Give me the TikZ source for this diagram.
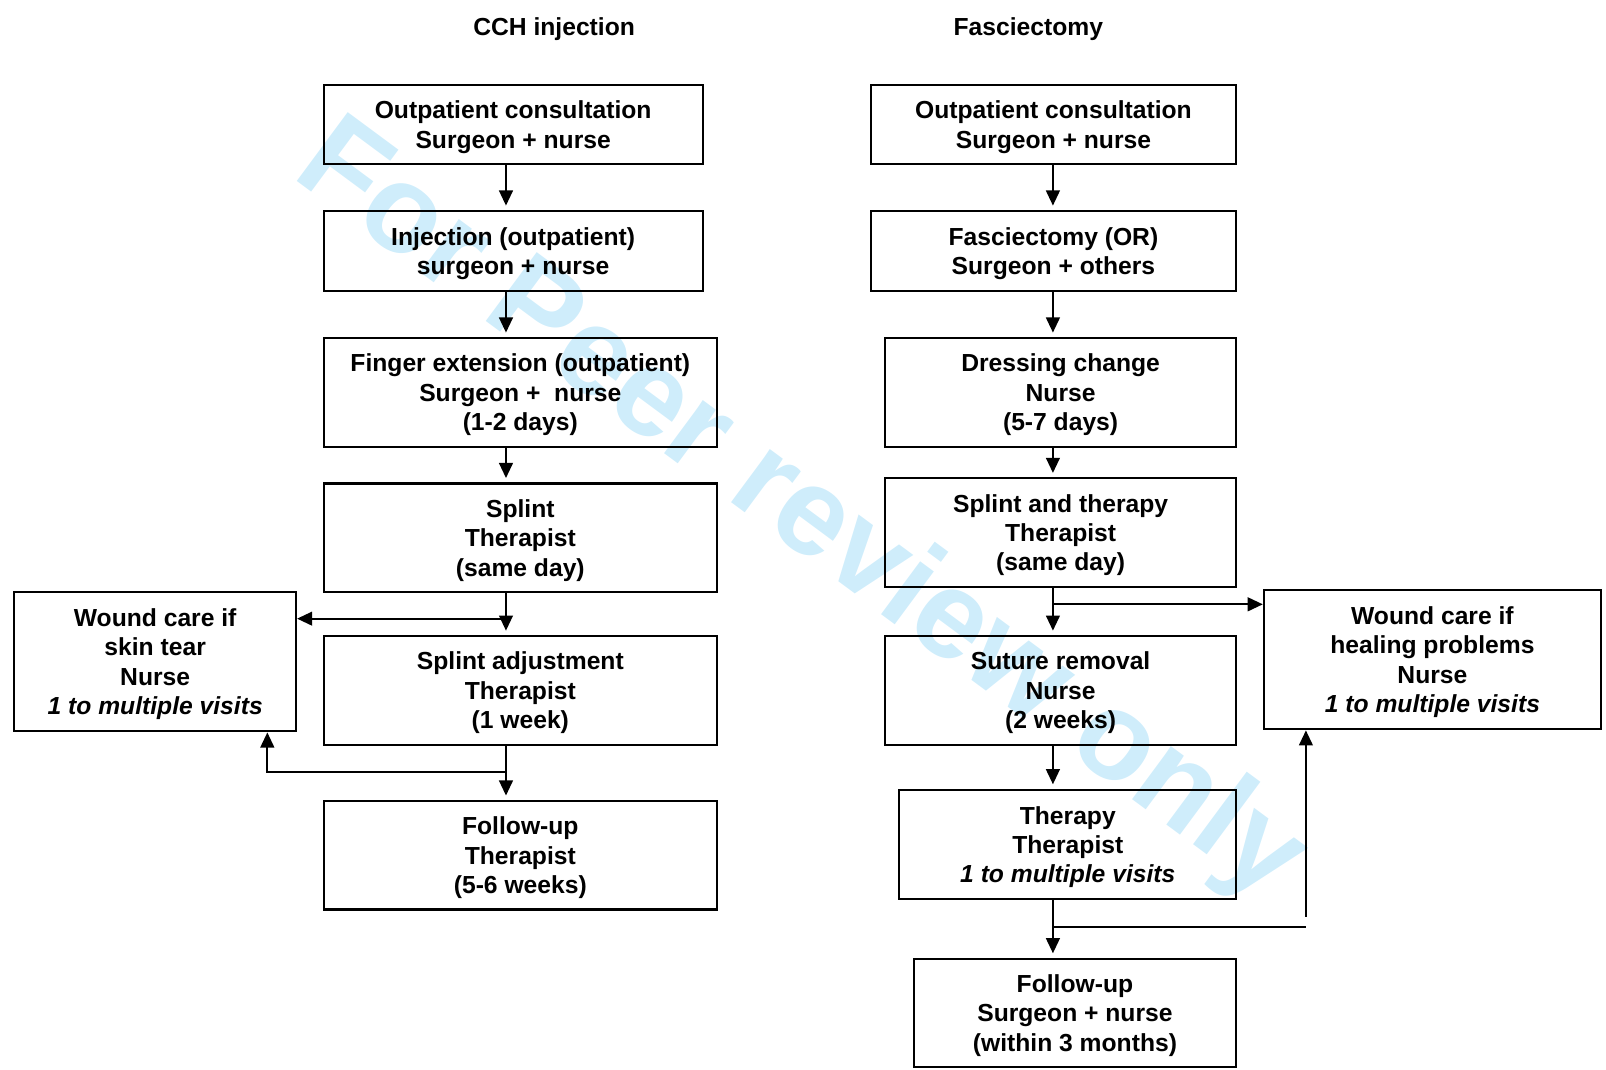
\documentclass[tikz,border=0pt]{standalone}
\usepackage{fontspec}
\setmainfont{Liberation Sans}
\usetikzlibrary{arrows.meta}
\definecolor{wmblue}{RGB}{207,237,251}

\begin{document}
\begin{tikzpicture}[line width=0.6pt,
    box/.style={draw, align=center, inner sep=0pt, text depth=0pt, font=\bfseries\fontsize{6.85}{8.15}\selectfont},
    title/.style={font=\bfseries\fontsize{6.85}{8.15}\selectfont},
    wmark/.style={text=wmblue, rotate=-36.5, anchor=base west, inner sep=0pt, font=\bfseries\fontsize{34.6}{34.6}\selectfont},
    link/.style={-{Triangle[width=3.8pt,length=4.2pt]}, shorten >=1.2pt}]
    \useasboundingbox (0,0) rectangle (15.68,-10.44);
    \node[wmark] (wm) at (2.83,-1.72) {For Peer review only};
    \node[title] (tcch) at (5.41,-0.28) {CCH injection};
    \node[title] (tfas) at (10.04,-0.28) {Fasciectomy};
    \coordinate (cx) at (4.94,0);
    \coordinate (fx) at (10.28,0);
    \node[box, minimum width=3.70cm, minimum height=0.77cm] (cch1) at (5.01,-1.215) {Outpatient consultation\\Surgeon + nurse};
    \node[box, minimum width=3.70cm, minimum height=0.78cm] (cch2) at (5.01,-2.45) {Injection (outpatient)\\surgeon + nurse};
    \node[box, minimum width=3.84cm, minimum height=1.06cm] (cch3) at (5.08,-3.83) {Finger extension (outpatient)\\Surgeon +\ \ nurse\\(1-2 days)};
    \node[box, minimum width=3.84cm, minimum height=1.06cm] (cch4) at (5.08,-5.25) {Splint\\Therapist\\(same day)};
    \node[box, minimum width=3.84cm, minimum height=1.06cm] (cch5) at (5.08,-6.74) {Splint adjustment\\Therapist\\(1 week)};
    \node[box, minimum width=3.84cm, minimum height=1.06cm] (cch6) at (5.08,-8.35) {Follow-up\\Therapist\\(5-6 weeks)};
    \node[box, minimum width=2.75cm, minimum height=1.36cm] (cchw) at (1.515,-6.46) {Wound care if\\skin tear\\Nurse\\\textit{1 to multiple visits}};
    \node[box, minimum width=3.57cm, minimum height=0.77cm] (fas1) at (10.285,-1.215) {Outpatient consultation\\Surgeon + nurse};
    \node[box, minimum width=3.57cm, minimum height=0.78cm] (fas2) at (10.285,-2.45) {Fasciectomy (OR)\\Surgeon + others};
    \node[box, minimum width=3.43cm, minimum height=1.06cm] (fas3) at (10.355,-3.83) {Dressing change\\Nurse\\(5-7 days)};
    \node[box, minimum width=3.43cm, minimum height=1.06cm] (fas4) at (10.355,-5.20) {Splint and therapy\\Therapist\\(same day)};
    \node[box, minimum width=3.43cm, minimum height=1.06cm] (fas5) at (10.355,-6.74) {Suture removal\\Nurse\\(2 weeks)};
    \node[box, minimum width=3.29cm, minimum height=1.07cm] (fas6) at (10.425,-8.245) {Therapy\\Therapist\\\textit{1 to multiple visits}};
    \node[box, minimum width=3.15cm, minimum height=1.06cm] (fas7) at (10.495,-9.89) {Follow-up\\Surgeon + nurse\\(within 3 months)};
    \node[box, minimum width=3.29cm, minimum height=1.36cm] (fasw) at (13.985,-6.44) {Wound care if\\healing problems\\Nurse\\\textit{1 to multiple visits}};
    \draw[link] (cch1.south -| cx) -- (cch2.north -| cx);
    \draw[link] (cch2.south -| cx) -- (cch3.north -| cx);
    \draw[link] (cch3.south -| cx) -- (cch4.north -| cx);
    \draw[link] (cch4.south -| cx) -- (cch5.north -| cx);
    \draw[link] (cch5.south -| cx) -- (cch6.north -| cx);
    \coordinate (lsplit) at (4.94,-6.04);
    \coordinate (lturn) at (2.61,-7.54);
    \draw[link, shorten >=0pt] (lsplit) -- (lsplit -| cchw.east);
    \draw[link, shorten >=0pt] (lturn -| cx) -- (lturn) -- (cchw.south -| lturn);
    \draw[link] (fas1.south -| fx) -- (fas2.north -| fx);
    \draw[link] (fas2.south -| fx) -- (fas3.north -| fx);
    \draw[link] (fas3.south -| fx) -- (fas4.north -| fx);
    \draw[link] (fas4.south -| fx) -- (fas5.north -| fx);
    \draw[link] (fas5.south -| fx) -- (fas6.north -| fx);
    \draw[link] (fas6.south -| fx) -- (fas7.north -| fx);
    \coordinate (rsplit) at (10.28,-5.90);
    \coordinate (rturn) at (12.75,-9.05);
    \coordinate (rup) at (12.75,-8.95);
    \draw[link, shorten >=0pt] (rsplit) -- (rsplit -| fasw.west);
    \draw (rturn -| fx) -- (rturn);
    \draw[link, shorten >=0pt] (rup) -- (fasw.south -| rup);
\end{tikzpicture}
\end{document}
